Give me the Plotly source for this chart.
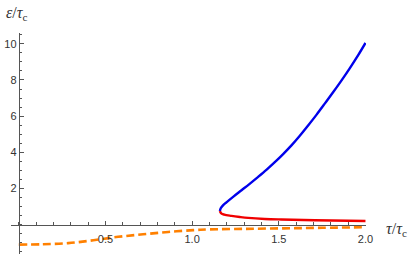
import plotly.graph_objects as go

# Upper (blue) branch
blue_tau = [1.16, 1.165, 1.178, 1.198, 1.24, 1.285, 1.33, 1.381, 1.43, 1.477, 1.525, 1.573, 1.62,
            1.669, 1.717, 1.765, 1.813, 1.862, 1.91, 1.957, 2.0]
blue_eps = [0.75, 0.90, 1.06, 1.23, 1.56, 1.90, 2.24, 2.64, 3.04, 3.45, 3.90, 4.38, 4.90,
            5.48, 6.07, 6.69, 7.32, 7.98, 8.66, 9.36, 10.05]

# Lower (red) branch
red_tau = [1.16, 1.168, 1.185, 1.227, 1.275, 1.323, 1.419, 1.515, 1.708, 2.0]
red_eps = [0.75, 0.62, 0.55, 0.48, 0.42, 0.37, 0.31, 0.28, 0.24, 0.20]

# Dashed (orange) curve
orange_tau = [0.0, 0.14, 0.285, 0.43, 0.573, 0.717, 0.862, 1.006, 1.10, 1.30, 1.525, 1.75, 2.0]
orange_eps = [-1.11, -1.09, -1.03, -0.87, -0.68, -0.54, -0.41, -0.31, -0.27, -0.24, -0.21, -0.18, -0.15]

x_ticks = [0.5, 1.0, 1.5, 2.0]
x_ticklabels = ["0.5", "1.0", "1.5", "2.0"]
y_ticks = [2, 4, 6, 8, 10]
y_ticklabels = ["2", "4", "6", "8", "10"]

x_range = [-0.045, 2.003]
y_range = [-1.63, 10.6]

fig = go.Figure()
fig.add_trace(go.Scatter(x=orange_tau, y=orange_eps, mode="lines",
                         line=dict(color="rgb(255,128,0)", width=2.6, dash="8px,4px", shape="spline"),
                         showlegend=False, hoverinfo="skip"))
fig.add_trace(go.Scatter(x=red_tau, y=red_eps, mode="lines",
                         line=dict(color="rgb(240,0,0)", width=2.4, shape="spline"),
                         showlegend=False, hoverinfo="skip"))
fig.add_trace(go.Scatter(x=blue_tau, y=blue_eps, mode="lines",
                         line=dict(color="rgb(0,0,235)", width=2.4, shape="spline"),
                         showlegend=False, hoverinfo="skip"))

xpos = (0 - y_range[0]) / (y_range[1] - y_range[0])
ypos = (0 - x_range[0]) / (x_range[1] - x_range[0])

ml, mr, mt, mb = 11, 51, 33, 2
W, H = 417, 256
pw = W - ml - mr
ph = H - mt - mb

axis_color = "#555555"
tick_font = dict(family="Liberation Sans, Arial, sans-serif", size=11, color="#333333")
label_font = dict(family="Liberation Serif, DejaVu Serif, serif", size=16, color="#333333")

fig.update_layout(
    width=W, height=H,
    margin=dict(l=ml, r=mr, t=mt, b=mb, autoexpand=False),
    paper_bgcolor="white", plot_bgcolor="white",
    xaxis=dict(range=x_range, anchor="free", position=xpos, showgrid=False, zeroline=False,
               automargin=False,
               showline=True, linecolor=axis_color, linewidth=1,
               tickmode="array", tickvals=x_ticks, ticktext=x_ticklabels,
               ticks="inside", ticklen=4, tickcolor=axis_color, tickfont=tick_font,
               ticklabelstandoff=4,
               minor=dict(dtick=0.1, tick0=0, ticks="inside", ticklen=2.5, tickcolor=axis_color, showgrid=False)),
    yaxis=dict(range=y_range, anchor="free", position=ypos, showgrid=False, zeroline=False,
               automargin=False,
               showline=True, linecolor=axis_color, linewidth=1,
               tickmode="array", tickvals=y_ticks, ticktext=y_ticklabels,
               ticks="inside", ticklen=4, tickcolor=axis_color, tickfont=tick_font,
               minor=dict(dtick=0.5, tick0=0, ticks="inside", ticklen=2.5, tickcolor=axis_color, showgrid=False)),
    annotations=[
        dict(text="<i>ε</i>/<i>τ</i><sub>c</sub>", xref="paper", yref="paper",
             x=(4 - ml) / pw, y=(H - mb - 13) / ph,
             xanchor="left", yanchor="middle", showarrow=False, font=label_font),
        dict(text="<i>τ</i>/<i>τ</i><sub>c</sub>", xref="paper", yref="paper",
             x=(384 - ml) / pw, y=(H - mb - 229) / ph,
             xanchor="left", yanchor="middle", showarrow=False, font=label_font),
    ],
)

fig.write_html("out.html",
               config={"displayModeBar": False, "staticPlot": True},
               post_script="document.body.style.margin='0';document.body.style.overflow='hidden';")
